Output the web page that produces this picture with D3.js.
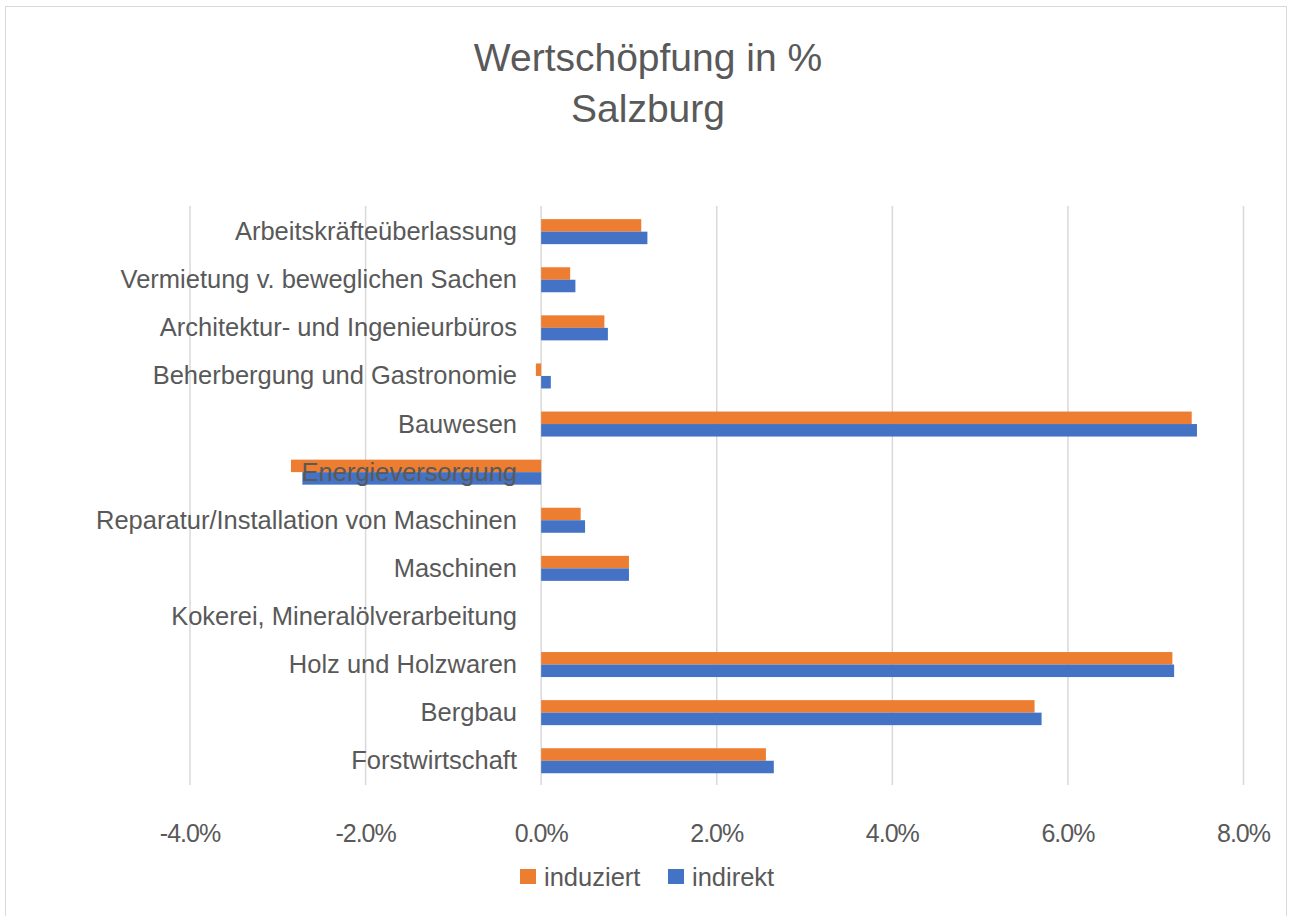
<!DOCTYPE html>
<html>
<head>
<meta charset="utf-8">
<script src="https://cdn.jsdelivr.net/npm/d3@7"></script>
<style>
  body { margin: 0; background: #fff; }
  text { font-family: "Liberation Sans", Arial, Helvetica, sans-serif; fill: #595959; }
</style>
</head>
<body>
<svg id="chart" width="1289" height="916"></svg>
<script>
// categories top to bottom
var categories = [
  'Arbeitskräfteüberlassung',
  'Vermietung v. beweglichen Sachen',
  'Architektur- und Ingenieurbüros',
  'Beherbergung und Gastronomie',
  'Bauwesen',
  'Energieversorgung',
  'Reparatur/Installation von Maschinen',
  'Maschinen',
  'Kokerei, Mineralölverarbeitung',
  'Holz und Holzwaren',
  'Bergbau',
  'Forstwirtschaft'
]

// values in %
var induziert = [1.14, 0.33, 0.72, -0.06, 7.41, -2.85, 0.45, 1.00, 0, 7.19, 5.62, 2.56]
var indirekt  = [1.21, 0.39, 0.76, 0.11, 7.47, -2.72, 0.50, 1.00, 0, 7.21, 5.70, 2.65]

var ticks = [-4, -2, 0, 2, 4, 6, 8]

var series = [
  {name: 'induziert', values: induziert, color: '#ED7D31'},
  {name: 'indirekt', values: indirekt, color: '#4472C4'}
]

var svg = d3.select('#chart')

// chart border
svg.append('rect')
    .attr('x', 5.5).attr('y', 6.5)
    .attr('width', 1281).attr('height', 915)
    .attr('fill', 'none').attr('stroke', '#d9d9d9')

// title
svg.append('text')
    .attr('x', 648).attr('y', 71)
    .attr('text-anchor', 'middle')
    .style('font-size', '39px')
    .text('Wertschöpfung in %')
svg.append('text')
    .attr('x', 648).attr('y', 122)
    .attr('text-anchor', 'middle')
    .style('font-size', '39px')
    .text('Salzburg')

var x = d3.scaleLinear().domain([-4, 8]).range([190, 1243.5])
var y = d3.scaleBand().domain(categories).range([207.6, 784.8])
    .paddingInner(0.48).paddingOuter(0.24)
var sub = d3.scaleBand().domain(series.map(function(d){ return d.name }))
    .range([0, y.bandwidth()])

// gridlines
svg.append('g').selectAll('line')
  .data(ticks).join('line')
    .attr('x1', function(d){ return x(d) }).attr('x2', function(d){ return x(d) })
    .attr('y1', 206).attr('y2', 785)
    .attr('stroke', '#d9d9d9').attr('stroke-width', 1.5)

// bars
series.forEach(function(s){
  svg.append('g').selectAll('rect')
    .data(s.values).join('rect')
      .attr('x', function(d){ return x(Math.min(0, d)) })
      .attr('width', function(d){ return Math.abs(x(d) - x(0)) })
      .attr('y', function(d, i){ return y(categories[i]) + sub(s.name) })
      .attr('height', sub.bandwidth())
      .attr('fill', s.color)
})

// category labels
svg.append('g').selectAll('text')
  .data(categories).join('text')
    .attr('x', 517)
    .attr('y', function(d){ return y(d) + y.bandwidth() / 2 + 8.5 })
    .attr('text-anchor', 'end')
    .style('font-size', '25.5px')
    .text(function(d){ return d })

// x tick labels
svg.append('g').selectAll('text')
  .data(ticks).join('text')
    .attr('x', function(d){ return x(d) })
    .attr('y', 842)
    .attr('text-anchor', 'middle')
    .style('font-size', '25px')
    .style('letter-spacing', '-1px')
    .text(function(d){ return d3.format('.1f')(d).replace('−', '-') + '%' })

// legend
var legendX = [520, 668]
var legend = svg.append('g').selectAll('g')
  .data(series).join('g')
    .attr('transform', function(d, i){ return 'translate(' + legendX[i] + ',869)' })
legend.append('rect')
    .attr('width', 16).attr('height', 15)
    .attr('fill', function(d){ return d.color })
legend.append('text')
    .attr('x', 24).attr('y', 17)
    .style('font-size', '25.5px')
    .text(function(d){ return d.name })
</script>
</body>
</html>
